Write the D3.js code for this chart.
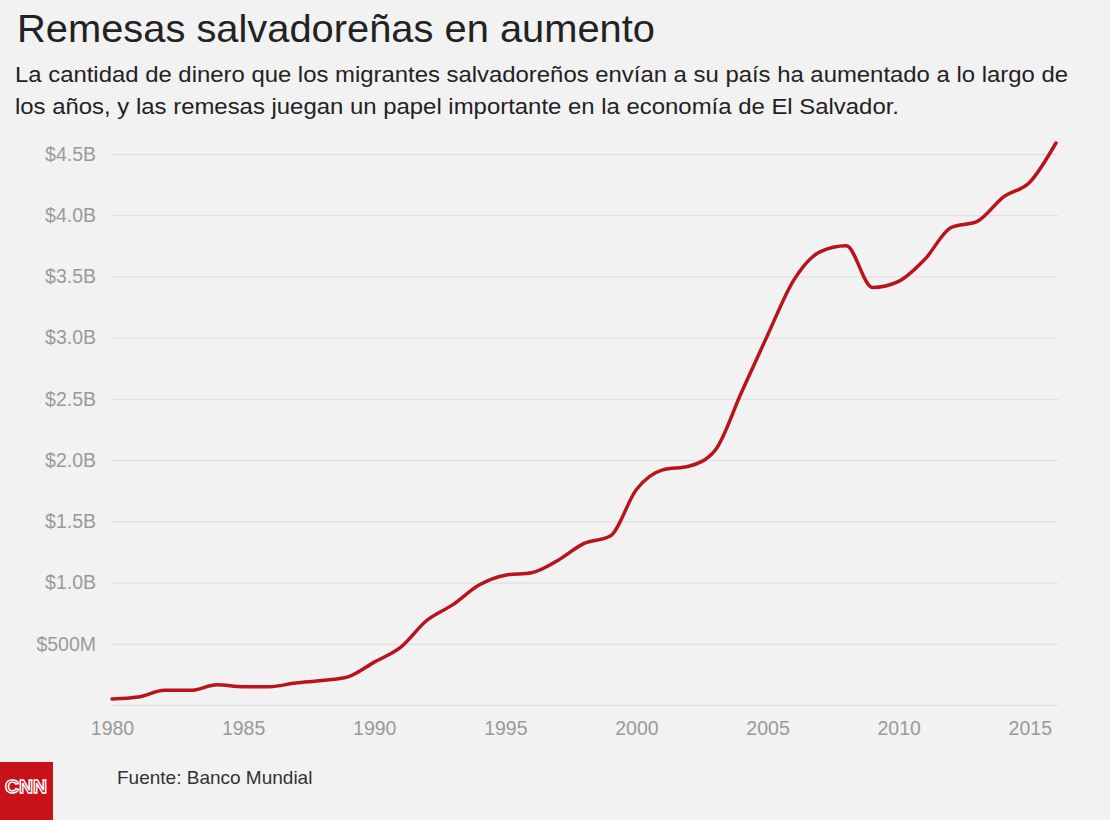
<!DOCTYPE html>
<html><head><meta charset="utf-8">
<script src="https://cdn.jsdelivr.net/npm/d3@7"></script>
<style>
html,body{margin:0;padding:0;background:#f2f2f2;}
svg{display:block;font-family:"Liberation Sans",Arial,sans-serif;}
</style></head>
<body>
<svg id="c" width="1110" height="820"></svg>
<script>
const years = [1980,1981,1982,1983,1984,1985,1986,1987,1988,1989,1990,1991,1992,1993,1994,1995,1996,1997,1998,1999,2000,2001,2002,2003,2004,2005,2006,2007,2008,2009,2010,2011,2012,2013,2014,2015,2016];
const remittancesB = [0.049,0.065,0.12,0.12,0.165,0.15,0.15,0.18,0.20,0.23,0.35,0.47,0.69,0.82,0.98,1.06,1.08,1.18,1.32,1.38,1.76,1.92,1.95,2.08,2.55,3.02,3.47,3.70,3.75,3.41,3.46,3.64,3.90,3.95,4.15,4.27,4.59];
const yTicks = [0,0.5,1.0,1.5,2.0,2.5,3.0,3.5,4.0,4.5];
const yTickLabels = ["","$500M","$1.0B","$1.5B","$2.0B","$2.5B","$3.0B","$3.5B","$4.0B","$4.5B"];
const xTicks = [1980,1985,1990,1995,2000,2005,2010,2015];
const titleText = "Remesas salvadoreñas en aumento";
const subtitleLines = ["La cantidad de dinero que los migrantes salvadoreños envían a su país ha aumentado a lo largo de","los años, y las remesas juegan un papel importante en la economía de El Salvador."];
const subtitleWidths = [1053, 884];
const sourceText = "Fuente: Banco Mundial";

const svg = d3.select("#c");
svg.append("rect").attr("width",1110).attr("height",820).attr("fill","#f2f2f2");

const x = d3.scaleLinear().domain([1980,2016]).range([112,1056]);
const y = d3.scaleLinear().domain([0,4.5]).range([705,154]);

svg.append("text").attr("x",17).attr("y",42).attr("font-size",39).attr("fill","#222")
  .attr("textLength",638).attr("lengthAdjust","spacingAndGlyphs").text(titleText);
svg.selectAll("text.sub").data(subtitleLines).enter().append("text").attr("class","sub")
  .attr("x",15).attr("y",(d,i)=>82+i*32).attr("font-size",22).attr("fill","#222")
  .attr("textLength",(d,i)=>subtitleWidths[i]).attr("lengthAdjust","spacingAndGlyphs").text(d=>d);

// grid
const yAxis = d3.axisLeft(y).tickValues(yTicks).tickSize(0).tickPadding(16)
  .tickFormat((d,i)=>yTickLabels[i]);
const gy = svg.append("g").attr("transform","translate(112,0)").call(yAxis);
gy.select(".domain").remove();
gy.selectAll(".tick line").attr("x2",1058-112).attr("stroke","#dcdcdc").attr("stroke-width",1);
gy.selectAll(".tick text").attr("font-size",19.5).attr("fill","#9a9a9a").attr("font-family","Liberation Sans, Arial, sans-serif");

const xAxis = d3.axisBottom(x).tickValues(xTicks).tickSize(0).tickPadding(16).tickFormat(d3.format("d"));
const gx = svg.append("g").attr("transform","translate(0,705)").call(xAxis);
gx.select(".domain").remove();
gx.selectAll(".tick text").attr("font-size",19.5).attr("fill","#9a9a9a").attr("font-family","Liberation Sans, Arial, sans-serif");

const line = d3.line().x((d,i)=>x(years[i])).y(d=>y(d)).curve(d3.curveMonotoneX);
svg.append("path").datum(remittancesB).attr("d",line).attr("fill","none")
  .attr("stroke","#b9141c").attr("stroke-width",3.5).attr("stroke-linejoin","round").attr("stroke-linecap","round");

// logo
svg.append("rect").attr("x",0).attr("y",762).attr("width",53).attr("height",58).attr("fill","#c9111a");
svg.append("text").attr("x",5).attr("y",793).attr("font-size",18).attr("font-weight","bold")
  .attr("textLength",42).attr("lengthAdjust","spacingAndGlyphs")
  .attr("fill","none").attr("stroke","#fff").attr("stroke-width",1.3).text("CNN");

svg.append("text").attr("x",117).attr("y",784).attr("font-size",19).attr("fill","#333").text(sourceText);
</script>
</body></html>
